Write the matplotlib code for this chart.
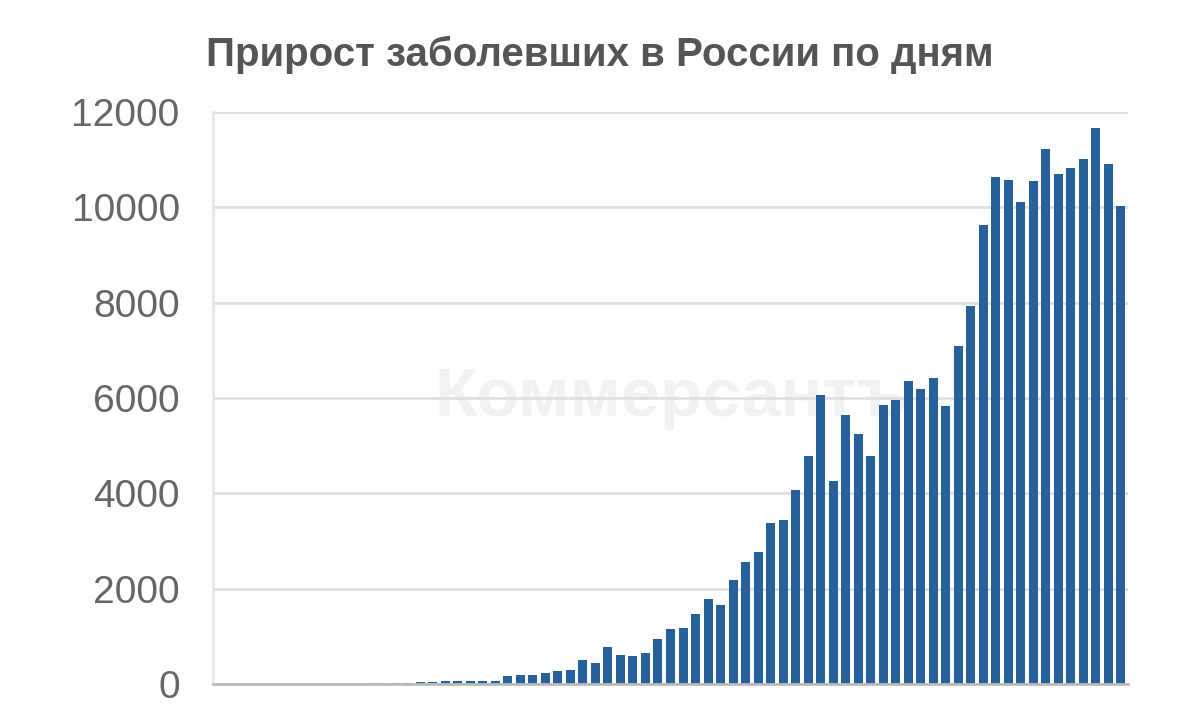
import matplotlib
matplotlib.use("Agg")
import matplotlib.pyplot as plt

early = [0,0,1,0,0,1,3,0,0,3,3,6,11,14,27,30,33,52,54,53,61,71,57]
mid = [163,182,196,228,270,302,501,440,771,601,582,658,954,1154]
late = [1175,1459,1786,1667,2186,2558,2774,3388,3448,4070,4785,6060,4268,5642,5236,4774,
        5849,5966,6361,6198,6411,5841,7099,7933,9623,10633,10581,10102,10559,11231,10699,
        10817,11012,11656,10899,10028]
values = early + mid + late
yticks = [0, 2000, 4000, 6000, 8000, 10000, 12000]
title = "Прирост заболевших в России по дням"

fig = plt.figure(figsize=(12, 7.05), dpi=100)
ax = fig.add_axes([213/1200, 1-684/705, (1128-213)/1200, (684-112)/705])
ax.bar(range(len(values)), values, width=0.72, color="#26619c", zorder=3)
ax.set_xlim(-0.56, len(values)-1+0.56)
ax.set_ylim(0, 12000)
ax.set_yticks(yticks)
ax.set_yticklabels([str(t) for t in yticks], fontsize=28, color="#666666", family="Liberation Sans")
ax.set_xticks([])
ax.grid(axis="y", color="#e0e0e0", linewidth=2, zorder=0)
ax.tick_params(axis="y", length=0, pad=24)
for s in ["top", "right"]:
    ax.spines[s].set_visible(False)
ax.spines["left"].set_color("#e6e6e6")
ax.spines["left"].set_linewidth(2)
ax.spines["bottom"].set_color("#bbbbbb")
ax.spines["bottom"].set_linewidth(2)
ax.spines["bottom"].set_zorder(4)
ax.text(0.5, 0.5, "Коммерсантъ", transform=ax.transAxes, fontsize=50, fontweight="bold",
        color="#f2f2f2", ha="center", va="center", zorder=1, family="Liberation Sans")
fig.text(600/1200, 1-55/705, title, ha="center", va="center", fontsize=29,
         fontweight="bold", color="#555555", family="Liberation Sans")
fig.savefig("out.png", dpi=100)
